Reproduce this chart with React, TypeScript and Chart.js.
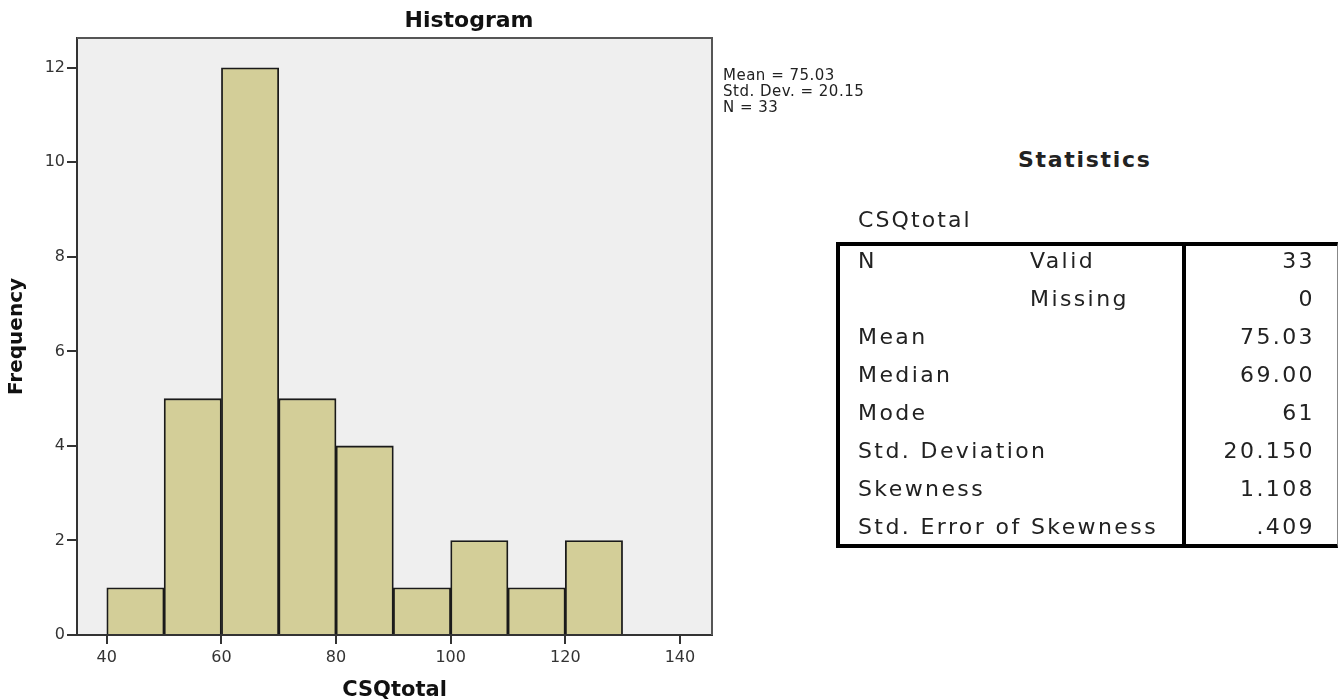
import React, { useEffect, useRef } from 'react';
import { Chart, registerables } from 'chart.js';

Chart.register(...registerables);

const binCenters = [45, 55, 65, 75, 85, 95, 105, 115, 125];
const frequencies = [1, 5, 12, 5, 4, 1, 2, 1, 2];
const xTicks = [40, 60, 80, 100, 120, 140];
const yTicks = [0, 2, 4, 6, 8, 10, 12];
const summaryLines = ['Mean = 75.03', 'Std. Dev. = 20.15', 'N = 33'];
const statLabels = ['N', '', 'Mean', 'Median', 'Mode', 'Std. Deviation', 'Skewness', 'Std. Error of Skewness'];
const statSubLabels = ['Valid', 'Missing', '', '', '', '', '', ''];
const statValues = ['33', '0', '75.03', '69.00', '61', '20.150', '1.108', '.409'];

const FONT = 'DejaVu Sans';

const framePlugin = {
  id: 'frame',
  beforeDraw(chart: any) {
    const { ctx, chartArea: a } = chart;
    ctx.save();
    ctx.fillStyle = '#efefef';
    ctx.fillRect(a.left, a.top, a.right - a.left, a.bottom - a.top);
    ctx.restore();
  },
  afterDraw(chart: any) {
    const { ctx, chartArea: a } = chart;
    ctx.save();
    ctx.strokeStyle = '#555';
    ctx.lineWidth = 2;
    ctx.beginPath();
    ctx.moveTo(a.left, a.top);
    ctx.lineTo(a.right, a.top);
    ctx.lineTo(a.right, a.bottom);
    ctx.stroke();
    ctx.restore();
  },
};

export default function App() {
  const ref = useRef<HTMLCanvasElement | null>(null);

  useEffect(() => {
    document.body.style.margin = '0';
    const canvas = ref.current;
    if (!canvas) return;
    Chart.defaults.font.family = FONT;
    const chart = new Chart(canvas, {
      type: 'bar',
      data: {
        datasets: [
          {
            data: binCenters.map((x, i) => ({ x, y: frequencies[i] })) as any,
            backgroundColor: '#d3ce98',
            borderColor: '#1a1a1a',
            borderWidth: 1.8,
            barPercentage: 1,
            categoryPercentage: 1,
            borderSkipped: 'start',
          },
        ],
      },
      options: {
        animation: false,
        responsive: false,
        events: [],
        layout: { padding: { left: 0, right: 226, top: 38, bottom: 0 } },
        plugins: {
          legend: { display: false },
          tooltip: { enabled: false },
          title: { display: false },
        },
        scales: {
          x: {
            type: 'linear',
            offset: false,
            min: 34.8,
            max: 145.6,
            afterBuildTicks: (s: any) => {
              s.ticks = xTicks.map((v) => ({ value: v }));
            },
            afterFit: (s: any) => {
              s.height = 65;
            },
            grid: { display: true, offset: false, drawOnChartArea: false, drawTicks: true, tickLength: 9, color: '#333', lineWidth: 2 },
            border: { display: true, color: '#333', width: 2 },
            ticks: { font: { family: FONT, size: 16 }, color: '#333', padding: 4, maxRotation: 0, autoSkip: false },
            title: {
              display: true,
              text: 'CSQtotal',
              color: '#111',
              font: { family: FONT, size: 21, weight: 'bold' },
              padding: { top: 0, bottom: -3 },
            },
          },
          y: {
            min: 0,
            max: 12.63,
            afterBuildTicks: (s: any) => {
              s.ticks = yTicks.map((v) => ({ value: v }));
            },
            afterFit: (s: any) => {
              s.width = 77;
            },
            grid: { display: true, drawOnChartArea: false, drawTicks: true, tickLength: 10, color: '#333', lineWidth: 2 },
            border: { display: true, color: '#333', width: 2 },
            ticks: { font: { family: FONT, size: 16 }, color: '#333', padding: 2, autoSkip: false },
            title: {
              display: true,
              text: 'Frequency',
              color: '#111',
              font: { family: FONT, size: 20, weight: 'bold' },
              padding: { top: 5, bottom: 0 },
            },
          },
        },
      } as any,
      plugins: [framePlugin],
    });
    return () => chart.destroy();
  }, []);

  const cellText: React.CSSProperties = {
    position: 'absolute',
    fontFamily: FONT,
    fontSize: 22,
    lineHeight: '38px',
    letterSpacing: '2.4px',
    color: '#222',
    whiteSpace: 'nowrap',
  };

  return (
    <div style={{ position: 'absolute', left: 0, top: 0, width: 1338, height: 700, background: '#fff', overflow: 'hidden' }}>
      <canvas ref={ref} width={938} height={700} style={{ position: 'absolute', left: 0, top: 0, width: 938, height: 700 }} />
      <div
        style={{
          position: 'absolute',
          left: 369,
          width: 200,
          top: 5,
          textAlign: 'center',
          fontFamily: FONT,
          fontSize: 22,
          fontWeight: 'bold',
          lineHeight: '30px',
          color: '#111',
          whiteSpace: 'nowrap',
        }}
      >
        Histogram
      </div>
      <div
        style={{
          position: 'absolute',
          left: 723,
          top: 67,
          fontFamily: FONT,
          fontSize: 15,
          lineHeight: '16px',
          letterSpacing: '0.5px',
          color: '#222',
          whiteSpace: 'nowrap',
        }}
      >
        {summaryLines.map((s, i) => (
          <div key={i}>{s}</div>
        ))}
      </div>
      <div
        style={{
          position: 'absolute',
          left: 1018,
          top: 145,
          fontFamily: FONT,
          fontSize: 22,
          fontWeight: 'bold',
          lineHeight: '30px',
          letterSpacing: '1.7px',
          color: '#222',
          whiteSpace: 'nowrap',
        }}
      >
        Statistics
      </div>
      <div
        style={{
          position: 'absolute',
          left: 858,
          top: 205,
          fontFamily: FONT,
          fontSize: 22,
          lineHeight: '30px',
          letterSpacing: '2.1px',
          color: '#222',
          whiteSpace: 'nowrap',
        }}
      >
        CSQtotal
      </div>
      <div
        style={{
          position: 'absolute',
          left: 836,
          top: 242,
          width: 502,
          height: 306,
          boxSizing: 'border-box',
          borderLeft: '4px solid #000',
          borderTop: '4px solid #000',
          borderBottom: '4px solid #000',
          borderRight: '1px solid #888',
        }}
      />
      <div style={{ position: 'absolute', left: 1182, top: 242, width: 4, height: 306, background: '#000' }} />
      {statLabels.map((lab, i) => (
        <React.Fragment key={i}>
          {lab && <div style={{ ...cellText, left: 858, top: 242 + 38 * i }}>{lab}</div>}
          {statSubLabels[i] && <div style={{ ...cellText, left: 1030, top: 242 + 38 * i }}>{statSubLabels[i]}</div>}
          <div style={{ ...cellText, right: 1338 - 1315, top: 242 + 38 * i, textAlign: 'right' }}>{statValues[i]}</div>
        </React.Fragment>
      ))}
    </div>
  );
}
